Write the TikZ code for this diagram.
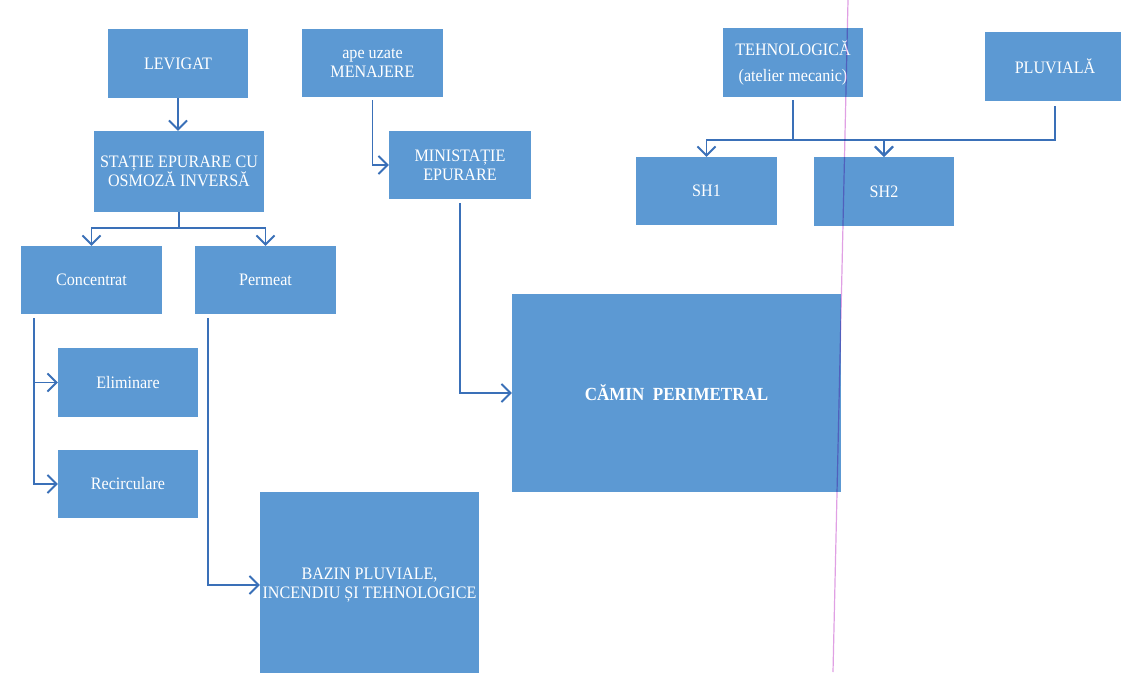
\documentclass[tikz,border=0pt]{standalone}
\usepackage{fontspec}
\setmainfont{Liberation Serif}[FakeStretch=0.92]
\usetikzlibrary{arrows.meta}
\definecolor{boxblue}{RGB}{92,153,211}
\definecolor{linkblue}{RGB}{58,112,184}
\definecolor{marginpink}{RGB}{224,160,228}
\tikzset{
  box/.style={rectangle, fill=boxblue, text=white, align=center, inner sep=2pt,
    font=\fontsize{17.5}{19}\selectfont},
  link/.style={draw=linkblue, line width=1.9pt},
  arr/.style={link, -{Straight Barb[length=9pt,width=18pt]}},
}
\begin{document}
\begin{tikzpicture}[x=1pt,y=-1pt]
\fill[white] (0,0) rectangle (1121,672);
\useasboundingbox (0,0) rectangle (1121,672);

% left branch: leachate treatment
\node[box, minimum width=140pt, minimum height=69pt] (lev) at (178,63.5) {LEVIGAT};
\node[box, minimum width=170pt, minimum height=81pt] (sta) at (179,171.5) {STAȚIE EPURARE CU\\OSMOZĂ INVERSĂ};
\node[box, minimum width=141pt, minimum height=68pt] (conc) at (91.5,280) {Concentrat};
\node[box, minimum width=141pt, minimum height=68pt] (perm) at (265.5,280) {Permeat};
\node[box, minimum width=140pt, minimum height=69pt] (elim) at (128,382.5) {Eliminare};
\node[box, minimum width=140pt, minimum height=68pt] (reci) at (128,484) {Recirculare};
\node[box, minimum width=219pt, minimum height=186pt] (baz) at (369.5,585) {BAZIN PLUVIALE,\\INCENDIU ȘI TEHNOLOGICE};

% domestic wastewater branch
\node[box, minimum width=141pt, minimum height=68pt] (men) at (372.5,63) {ape uzate\\MENAJERE};
\node[box, minimum width=142pt, minimum height=68pt] (mini) at (460,165) {MINISTAȚIE\\EPURARE};
\node[box, minimum width=329pt, minimum height=198pt,
      font=\bfseries\fontsize{18.5}{21}\selectfont] (cam) at (676.5,393) {CĂMIN\ \ PERIMETRAL};

% process and storm water, oil separators
\node[box, minimum width=140pt, minimum height=69pt] (teh) at (793,62.5) {TEHNOLOGICĂ\\[7pt](atelier mecanic)};
\node[box, minimum width=140pt, minimum height=69pt] (plu) at (1055,66.5) {PLUVIALĂ};
\node[box, minimum width=141pt, minimum height=68pt] (sh1) at (706.5,191) {SH1};
\node[box, minimum width=140pt, minimum height=69pt] (sh2) at (884,191.5) {SH2};

% connectors
\draw[arr] (lev.south) -- (lev.south |- sta.north);

\coordinate (sj) at ([yshift=-16pt]sta.south);
\draw[link] (sta.south) -- (sj);
\draw[arr] (sj) -| (conc.north);
\draw[arr] (sj) -| (perm.north);

\coordinate (ct) at ([xshift=13pt,yshift=-4pt]conc.south west);
\draw[arr] (ct) |- (elim.west);
\draw[arr] (ct) |- (reci.west);

\coordinate (pt) at ([xshift=13pt,yshift=-4pt]perm.south west);
\draw[arr] (pt) |- (baz.west);

\draw[arr] ([yshift=-3pt]men.south) |- (mini.west);
\draw[arr] ([yshift=-4pt]mini.south) |- (cam.west);

\coordinate (tj) at ([yshift=-43pt]teh.south);
\draw[link] ([yshift=-3pt]teh.south) -- (tj);
\draw[arr] (tj) -| (sh1.north);
\draw[arr] (tj) -| (sh2.north);
\draw[arr] ([yshift=-5pt]plu.south) |- (sh2.north |- tj) -- (sh2.north);

% page margin line
\draw[marginpink, line width=1.2pt, blend mode=multiply] (848,0) -- (833,672);
\end{tikzpicture}
\end{document}
